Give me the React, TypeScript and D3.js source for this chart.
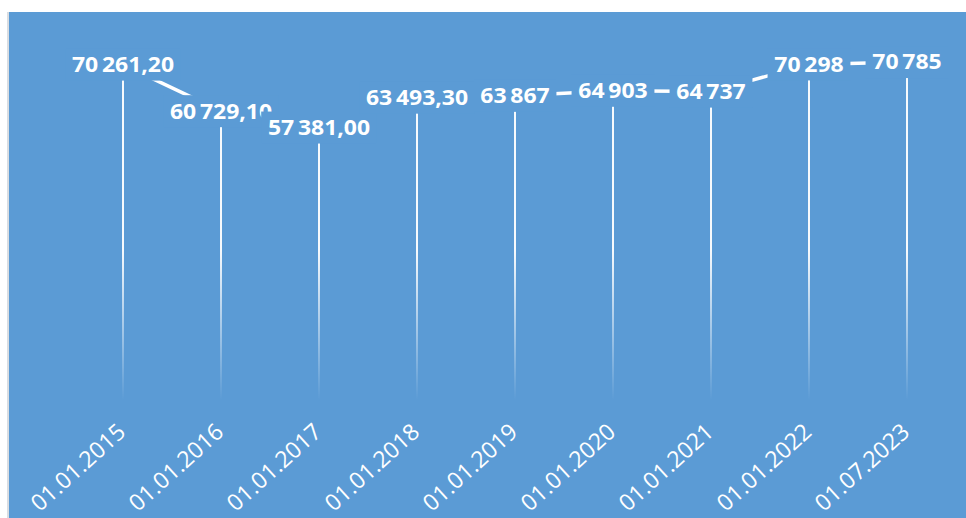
import React, { useEffect, useRef } from 'react';
import * as d3 from 'd3';

const dates = ['01.01.2015', '01.01.2016', '01.01.2017', '01.01.2018', '01.01.2019', '01.01.2020', '01.01.2021', '01.01.2022', '01.07.2023'];
const values = [70261.2, 60729.1, 57381.0, 63493.3, 63867, 64903, 64737, 70298, 70785];
const decimals = [2, 2, 2, 2, 0, 0, 0, 0, 0];

const BG = '#5b9bd5';

export default function App() {
  const svgRef = useRef<SVGSVGElement>(null);

  useEffect(() => {
    if (!svgRef.current) return;
    const width = 966;
    const height = 518;

    const svg = d3.select(svgRef.current);
    svg.selectAll('*').remove();

    const locale = d3.formatLocale({ decimal: ',', thousands: '\u2009', grouping: [3], currency: ['', ''] });

    const x = d3.scalePoint<string>().domain(dates).range([123, 907]);
    const y = d3.scaleLinear().domain([0, 80000]).range([408, 17]);

    // gradient for the drop lines, fading out at the bottom
    const defs = svg.append('defs');
    const grad = defs.append('linearGradient')
      .attr('id', 'dropFade')
      .attr('gradientUnits', 'userSpaceOnUse')
      .attr('x1', 0).attr('x2', 0)
      .attr('y1', 250).attr('y2', 400);
    grad.append('stop').attr('offset', '0%').attr('stop-color', '#fff').attr('stop-opacity', 0.95);
    grad.append('stop').attr('offset', '100%').attr('stop-color', '#fff').attr('stop-opacity', 0);

    // background
    svg.append('rect').attr('width', width).attr('height', height).attr('fill', '#fff');
    svg.append('rect')
      .attr('x', 9).attr('y', 12)
      .attr('width', width - 9).attr('height', height - 12)
      .attr('fill', BG);
    svg.append('rect')
      .attr('x', 7).attr('y', 12)
      .attr('width', 2).attr('height', height - 12)
      .attr('fill', '#d9dde2');

    // drop lines
    svg.append('g')
      .selectAll('line')
      .data(values)
      .join('line')
        .attr('x1', (_, i) => x(dates[i])!)
        .attr('x2', (_, i) => x(dates[i])!)
        .attr('y1', d => y(d))
        .attr('y2', y(0) - 8)
        .attr('stroke', 'url(#dropFade)')
        .attr('stroke-width', 2);

    // value line
    const line = d3.line<number>()
      .x((_, i) => x(dates[i])!)
      .y(d => y(d));
    svg.append('path')
      .datum(values)
      .attr('d', line)
      .attr('fill', 'none')
      .attr('stroke', '#fff')
      .attr('stroke-width', 3.5);

    // data labels with background boxes (slightly stretched like the original)
    const labels = svg.append('g');
    values.forEach((v, i) => {
      const g = labels.append('g')
        .attr('transform', `translate(${x(dates[i])},${y(v)}) scale(1.12,1)`);
      const rect = g.append('rect').attr('fill', BG);
      const t = g.append('text')
        .attr('text-anchor', 'middle')
        .attr('dy', '0.36em')
        .style('font-family', '"Open Sans", sans-serif')
        .style('font-weight', 'bold')
        .style('font-size', '20.5px')
        .style('fill', '#fff')
        .text(locale.format(`,.${decimals[i]}f`)(v));
      const w = (t.node() as SVGTextElement).getComputedTextLength();
      rect.attr('x', -w / 2 - 6).attr('y', -16).attr('width', w + 12).attr('height', 32);
    });

    // category labels
    svg.append('g')
      .selectAll('text')
      .data(dates)
      .join('text')
        .attr('transform', d => `translate(${x(d)! + 4},${434}) rotate(-42)`)
        .attr('text-anchor', 'end')
        .style('font-family', '"Open Sans", sans-serif')
        .style('font-size', '23px')
        .style('fill', '#fff')
        .text(d => d);
  }, []);

  return (
    <div style={{ position: 'fixed', left: 0, top: 0, width: 966, height: 518, overflow: 'hidden' }}>
      <svg ref={svgRef} width={966} height={518} style={{ display: 'block' }}></svg>
    </div>
  );
}
